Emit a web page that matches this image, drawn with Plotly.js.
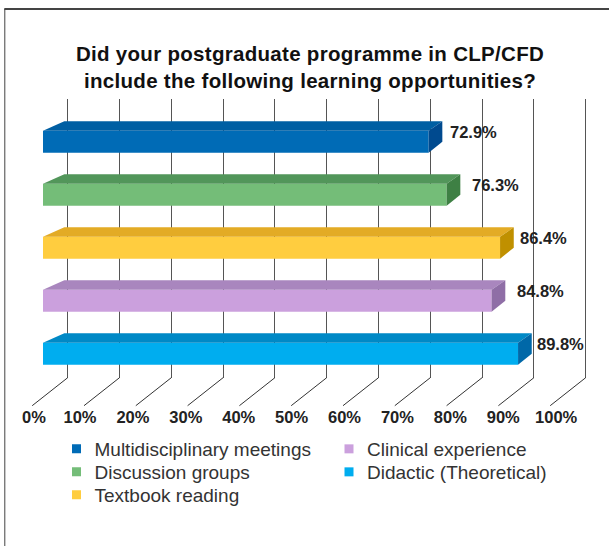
<!DOCTYPE html>
<html><head><meta charset="utf-8">
<script src="https://cdn.plot.ly/plotly-3.0.1.min.js"></script>
<style>html,body{margin:0;padding:0;background:#fff}.gtitle{letter-spacing:.3px}</style></head>
<body><div id="chart" style="width:609px;height:546px"></div>
<script>
const categories = ["Multidisciplinary meetings","Discussion groups","Textbook reading","Clinical experience","Didactic (Theoretical)"];
const values = [72.9,76.3,86.4,84.8,89.8];
const frontColors = ["#006bb6","#74bd78","#ffcd3f","#cba0dd","#00adef"];
const topColors = ["#005fa3","#52965a","#e3ab25","#a986be","#0089c6"];
const sideColors = ["#004a8f","#3e8044","#c09000","#8f6ea6","#0068a8"];
const gridTicks = [0,10,20,30,40,50,60,70,80,90,100];
const tickLabels = ["0%","10%","20%","30%","40%","50%","60%","70%","80%","90%","100%"];
const labelNudge = [19.5,23.5,17.5,23,17];

const W=609,H=546,ppu=5.29,org=43,pitch=53,cy0=141.7;
const yTop=-cy0/pitch, yBot=(407-cy0)/pitch;
const halfH=11/pitch, dyTop=9.4/pitch, dyBot=11/pitch, dxL=21.3/ppu, dxR=13.7/ppu;
const wallX=t=>(67.7+5.18*t-org)/ppu;
const traces=[];
traces.push({type:'scatter',x:[null],y:[null],xaxis:'x',yaxis:'y',showlegend:false,hoverinfo:'skip'});
traces.push({type:'bar',orientation:'h',x:values,y:categories.map((c,i)=>i),width:2*halfH,
  xaxis:'x2',yaxis:'y2',marker:{color:frontColors,line:{width:0}},showlegend:false,hoverinfo:'x'});
values.forEach((v,i)=>{
  traces.push({type:'scatter',mode:'lines',xaxis:'x2',yaxis:'y2',fill:'toself',fillcolor:topColors[i],line:{width:0},showlegend:false,hoverinfo:'skip',
    x:[0,dxL,v+dxR,v,0],y:[i-halfH,i-halfH-dyTop,i-halfH-dyTop,i-halfH,i-halfH]});
  traces.push({type:'scatter',mode:'lines',xaxis:'x2',yaxis:'y2',fill:'toself',fillcolor:sideColors[i],line:{width:0},showlegend:false,hoverinfo:'skip',
    x:[v,v+dxR,v+dxR,v,v],y:[i-halfH,i-halfH-dyTop,i+halfH-dyBot,i+halfH,i-halfH]});
});
const sx=[],sy=[];
gridTicks.forEach(t=>{sx.push(wallX(t),wallX(t)-35.5/ppu,null);sy.push((377.7-cy0)/pitch,(405.7-cy0)/pitch,null);});
traces.push({type:'scatter',mode:'lines',x:sx,y:sy,xaxis:'x2',yaxis:'y2',line:{color:'#333',width:1},showlegend:false,hoverinfo:'skip'});
categories.forEach((c,i)=>{
  traces.push({type:'scatter',mode:'markers',name:c,x:[null],y:[null],xaxis:'x2',yaxis:'y2',
    marker:{symbol:'square',size:9,color:frontColors[i]},legend:i<3?'legend':'legend2'});
});
const legendBase={font:{family:'Liberation Sans',size:19,color:'#333'},bgcolor:'rgba(0,0,0,0)',xanchor:'left',yanchor:'top',tracegroupgap:0,itemclick:false,itemdoubleclick:false};
const layout={
  width:W,height:H,margin:{l:0,r:0,t:0,b:0},paper_bgcolor:'#fff',plot_bgcolor:'rgba(0,0,0,0)',showlegend:true,
  title:{text:'Did your postgraduate programme in CLP/CFD<br>include the following learning opportunities?',
    font:{family:'Liberation Sans',size:20.5,color:'#111',weight:'bold'},x:310/W,xanchor:'center',y:1-61/H,yanchor:'top'},
  xaxis:{domain:[(67.7-5.18)/W,(585.7+5.18)/W],range:[-1,101],showgrid:true,tick0:0,dtick:10,gridcolor:'#555',gridwidth:1,zeroline:false,showticklabels:false,ticks:'',showline:false},
  yaxis:{domain:[1-377.7/H,1-99.3/H],range:[0,1],showgrid:false,zeroline:false,showticklabels:false,ticks:'',showline:false},
  xaxis2:{domain:[0,1],range:[-org/ppu,(W-org)/ppu],anchor:'y2',showgrid:false,zeroline:false,showline:false,ticks:'',
    tickmode:'array',tickvals:gridTicks.map(t=>t===0?-1.7:t-3),ticktext:tickLabels,ticklabelstandoff:-2,
    tickfont:{family:'Liberation Sans',size:16.5,color:'#222',weight:'bold'}},
  yaxis2:{domain:[1-407/H,1],range:[yBot,yTop],anchor:'x2',showgrid:false,zeroline:false,showticklabels:false,ticks:'',showline:false},
  legend:Object.assign({x:54.5/W,y:1-430/H},legendBase),
  legend2:Object.assign({x:327/W,y:1-430/H},legendBase),
  annotations:values.map((v,i)=>({xref:'x2',yref:'y2',x:v,y:i-10/pitch,text:v.toFixed(1)+'%',showarrow:false,xanchor:'left',yanchor:'middle',xshift:labelNudge[i],
    font:{family:'Liberation Sans',size:16.5,color:'#222',weight:'bold'}})),
  shapes:[
    {type:'line',xref:'paper',yref:'paper',x0:4.8/W,x1:4.8/W,y0:0,y1:1-9/H,line:{color:'#444',width:1}},
    {type:'line',xref:'paper',yref:'paper',x0:4.3/W,x1:1,y0:1-9/H,y1:1-9/H,line:{color:'#444',width:2}}
  ]
};
Plotly.newPlot('chart',traces,layout,{displayModeBar:false}).then(()=>{
  const rowPitch=23;
  document.querySelectorAll('g.legend, g.legend2').forEach(lg=>{
    const rows=lg.querySelectorAll('.traces');
    const first=rows.length?/translate\(([^,]+),\s*([^)]+)\)/.exec(rows[0].getAttribute('transform')):null;
    rows.forEach((g,k)=>{
      if(first) g.setAttribute('transform','translate('+first[1]+','+(parseFloat(first[2])+rowPitch*k)+')');
      const s=g.querySelector('.legendsymbols');
      if(s) s.setAttribute('transform','translate(2,0)');
    });
  });
});
</script></body></html>
